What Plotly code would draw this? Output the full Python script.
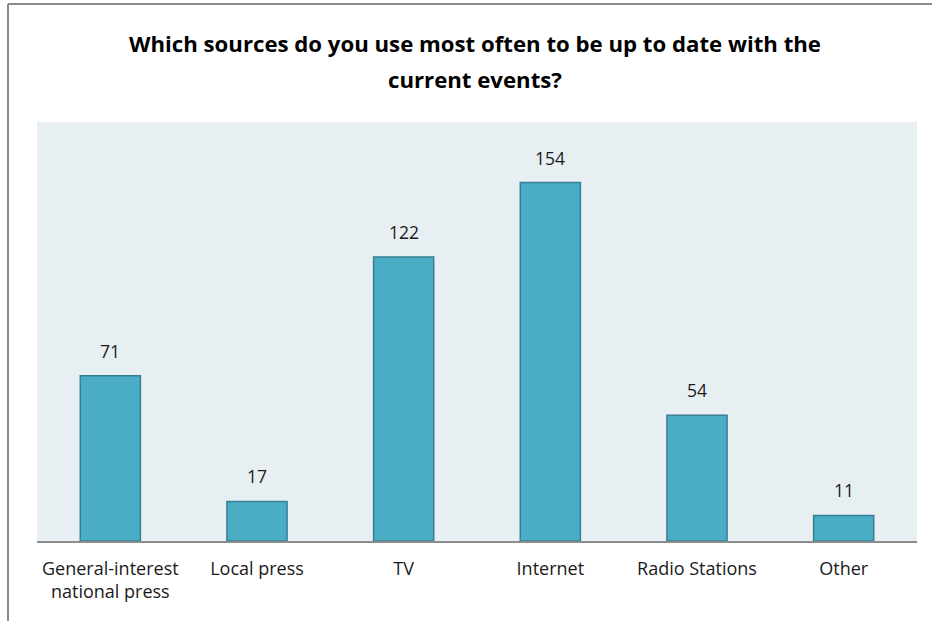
import plotly.graph_objects as go

categories = ["General-interest<br>national press", "Local press", "TV", "Internet", "Radio Stations", "Other"]
values = [71, 17, 122, 154, 54, 11]
title_lines = ["Which sources do you use most often to be up to date with the", "current events?"]

FONT = "Open Sans, Liberation Sans, sans-serif"

fig = go.Figure()
fig.add_trace(go.Bar(
    x=categories, y=values,
    marker=dict(color="#4BACC6", line=dict(color="#357F93", width=1.5)),
    width=0.41, hoverinfo="skip",
))
for c, v in zip(categories, values):
    fig.add_annotation(x=c, y=v, text=str(v), showarrow=False, yanchor="bottom", yshift=11,
                       font=dict(size=17.5, color="#1a1a1a", family=FONT))

L, R, T, B = 37, 15, 122, 80
W, H = 932, 621
pw, ph = W - L - R, H - T - B
def px(x): return (x - L) / pw
def py(y): return (H - B - y) / ph

for txt, yc in zip(title_lines, [44, 79]):
    fig.add_annotation(xref="paper", yref="paper", x=px(475), y=py(yc), text="<b>" + txt + "</b>",
                       showarrow=False, xanchor="center", yanchor="middle",
                       font=dict(size=22.2, color="#000", family=FONT))

fig.add_shape(type="line", xref="paper", yref="paper", x0=px(8), x1=px(940), y0=py(4), y1=py(4),
              line=dict(color="#8c8c8c", width=2))
fig.add_shape(type="line", xref="paper", yref="paper", x0=px(8), x1=px(8), y0=py(4), y1=py(630),
              line=dict(color="#8c8c8c", width=2))

fig.update_layout(
    width=W, height=H,
    margin=dict(l=L, r=R, t=T, b=B),
    paper_bgcolor="white", plot_bgcolor="#E8EFF3",
    font=dict(family=FONT, size=18, color="#1a1a1a"),
    showlegend=False,
)
fig.update_xaxes(showline=True, linecolor="#8c8c8c", linewidth=2, ticks="", showgrid=False,
                 ticklabelstandoff=10, tickfont=dict(size=18))
fig.update_yaxes(range=[0, 180], visible=False, showgrid=False)

fig.write_html("out.html", config={"displayModeBar": False},
               post_script="document.body.style.margin='0';")
